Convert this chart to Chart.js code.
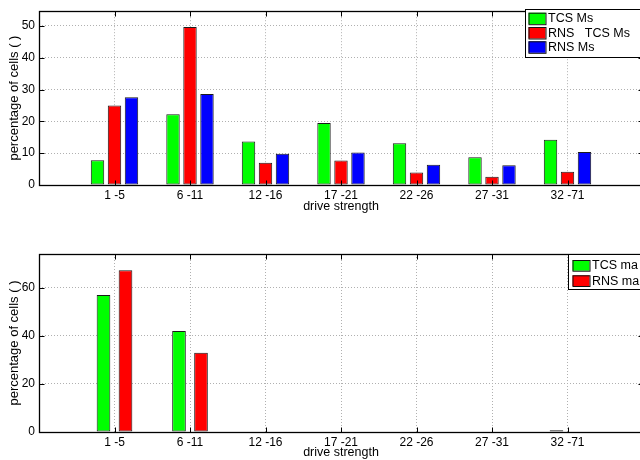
<!DOCTYPE html>
<html>
<head>
<meta charset="utf-8">
<script src="https://cdn.jsdelivr.net/npm/chart.js@4.4.1/dist/chart.umd.min.js"></script>
<style>
   html, body { margin: 0; padding: 0; background: #fff; width: 640px; height: 460px; overflow: hidden; position: relative; }
   canvas { position: absolute; left: 0; }
   #chart__1 { top: 0; }
   #chart__2 { top: 240px; }
</style>
</head>
<body>
<canvas id="chart__1" width="660" height="214"></canvas>
<canvas id="chart__2" width="660" height="220"></canvas>
<script>
// DATA
const categories = ["1 -5", "6 -11", "12 -16", "17 -21", "22 -26", "27 -31", "32 -71"];

const tcsMs = [7.8, 22.2, 13.7, 19.5, 13.1, 8.7, 14.2];
const rnsTcsMs = [25.0, 49.6, 7.0, 7.7, 3.9, 2.6, 4.2];
const rnsMs = [27.6, 28.6, 9.8, 10.2, 6.4, 6.2, 10.4];

const tcsMa = [57.0, 42.0, 0, 0, 0, 0, 0.7];
const rnsMa = [67.2, 32.9, 0, 0, 0, 0, 0];

const labelsTop = ["TCS Ms", "RNS   TCS Ms", "RNS Ms"];
const labelsBottom = ["TCS ma", "RNS ma"];

const yTicksTop = [0, 10, 20, 30, 40, 50];
const yTicksBottom = [0, 20, 40, 60];

const yMaxTop = 54.6;
const yMaxBottom = 74;

const GREEN = "#00ff00";
const RED = "#ff0000";
const BLUE = "#0000ff";

Chart.defaults.font.family = '"Liberation Sans", Arial, sans-serif';
Chart.defaults.color = "#000";

// PLUGINS
// matlab-like box around the axes with inward ticks
const matlabAxes = {
   id: "matlabAxes",
   afterDatasetsDraw(chart) {
      const { ctx, chartArea: a, scales } = chart;
      const l = Math.round(a.left) + 0.5;
      const t = Math.round(a.top) + 0.5;
      const r = Math.round(a.right) + 0.5;
      const b = Math.round(a.bottom) + 0.5;
      ctx.save();
      ctx.strokeStyle = "#000";
      ctx.lineWidth = 1;
      ctx.beginPath();
      scales.x.ticks.forEach((tk) => {
         const px = Math.round(scales.x.getPixelForValue(tk.value)) + 0.5;
         ctx.moveTo(px, b);
         ctx.lineTo(px, b - 5);
         ctx.moveTo(px, t);
         ctx.lineTo(px, t + 5);
      });
      scales.y.ticks.forEach((tk) => {
         const py = Math.round(scales.y.getPixelForValue(tk.value)) + 0.5;
         ctx.moveTo(l, py);
         ctx.lineTo(l + 5, py);
         ctx.moveTo(r, py);
         ctx.lineTo(r - 5, py);
      });
      ctx.stroke();
      ctx.lineWidth = 1.3;
      ctx.strokeRect(l, t, r - l, b - t);
      ctx.restore();
   },
};

// legend box inside the axes
const boxLegend = {
   id: "boxLegend",
   afterDraw(chart, args, opts) {
      const ctx = chart.ctx;
      ctx.save();
      ctx.fillStyle = "#fff";
      ctx.fillRect(opts.left, opts.top, opts.width, opts.height);
      ctx.strokeStyle = "#000";
      ctx.lineWidth = 1;
      ctx.strokeRect(opts.left + 0.5, opts.top + 0.5, opts.width, opts.height);
      ctx.font = '12.5px "Liberation Sans", Arial, sans-serif';
      ctx.textBaseline = "middle";
      chart.data.datasets.forEach((ds, i) => {
         const y = opts.top + opts.pad + i * opts.rowH;
         ctx.fillStyle = ds.backgroundColor;
         ctx.fillRect(opts.left + opts.swatchX, y, 17, opts.swatchH);
         ctx.strokeStyle = "#111";
         ctx.strokeRect(opts.left + opts.swatchX + 0.5, y + 0.5, 17, opts.swatchH);
         ctx.fillStyle = "#000";
         ctx.fillText(ds.label, opts.left + opts.swatchX + 19.5, y + opts.swatchH / 2 + 0.5);
      });
      ctx.restore();
   },
};

// FONCTIONS
function toPoints(values) {
   return values.map((v, i) => ({ x: i + 1, y: v }));
}

function makeDataset(label, values, color) {
   return {
      label: label,
      data: toPoints(values),
      backgroundColor: color,
      borderColor: "#1a1a1a",
      borderWidth: 1,
      borderSkipped: false,
   };
}

function makeOptions(yMax, yTicks, xHeight, padTop, barPct, catPct, legend) {
   return {
      responsive: false,
      animation: false,
      devicePixelRatio: 1,
      layout: { padding: { top: padTop, right: 17, left: 0, bottom: 0 } },
      datasets: { bar: { barPercentage: barPct, categoryPercentage: catPct } },
      plugins: {
         legend: { display: false },
         tooltip: { enabled: false },
         boxLegend: legend,
      },
      scales: {
         x: {
            type: "linear",
            min: 0,
            max: 8,
            offset: false,
            afterBuildTicks: (scale) => {
               scale.ticks = categories.map((c, i) => ({ value: i + 1 }));
            },
            afterFit: (scale) => {
               scale.height = xHeight;
            },
            ticks: {
               callback: (value, index) => categories[index],
               font: { size: 12 },
               padding: 3,
               maxRotation: 0,
            },
            grid: { offset: false, drawTicks: false, color: "#b0b0b0", lineWidth: 1 },
            border: { display: false, dash: [1, 2] },
            title: {
               display: true,
               text: "drive strength",
               font: { size: 12.5 },
               padding: { top: 0, bottom: 0 },
            },
         },
         y: {
            min: 0,
            max: yMax,
            afterBuildTicks: (scale) => {
               scale.ticks = yTicks.map((v) => ({ value: v }));
            },
            afterFit: (scale) => {
               scale.width = 39;
            },
            ticks: { font: { size: 12 }, padding: 4 },
            grid: {
               drawTicks: false,
               color: (c) => (c.tick && c.tick.value === 0 ? "rgba(0,0,0,0)" : "#b0b0b0"),
               lineWidth: 1,
            },
            border: { display: false, dash: [1, 2] },
            title: {
               display: true,
               text: "percentage of cells ( )",
               font: { size: 13 },
               padding: { top: 7, bottom: 0 },
            },
         },
      },
   };
}

// CHART 1 -> Ms
var ctx1 = document.getElementById("chart__1").getContext("2d");
window.chart1 = new Chart(ctx1, {
   type: "bar",
   data: {
      datasets: [
         makeDataset(labelsTop[0], tcsMs, GREEN),
         makeDataset(labelsTop[1], rnsTcsMs, RED),
         makeDataset(labelsTop[2], rnsMs, BLUE),
      ],
   },
   options: makeOptions(yMaxTop, yTicksTop, 29, 8, 0.79, 0.675, {
      left: 525, top: 9, width: 130, height: 48, pad: 3.7, rowH: 14.3, swatchX: 3.5, swatchH: 11.5,
   }),
   plugins: [matlabAxes, boxLegend],
});

// CHART 2 -> ma
var ctx2 = document.getElementById("chart__2").getContext("2d");
window.chart2 = new Chart(ctx2, {
   type: "bar",
   data: {
      datasets: [
         makeDataset(labelsBottom[0], tcsMa, GREEN),
         makeDataset(labelsBottom[1], rnsMa, RED),
      ],
   },
   options: makeOptions(yMaxBottom, yTicksBottom, 28, 14, 0.62, 0.583, {
      left: 568, top: 14, width: 90, height: 35, pad: 6, rowH: 15.3, swatchX: 4.5, swatchH: 10.7,
   }),
   plugins: [matlabAxes, boxLegend],
});
</script>
</body>
</html>
